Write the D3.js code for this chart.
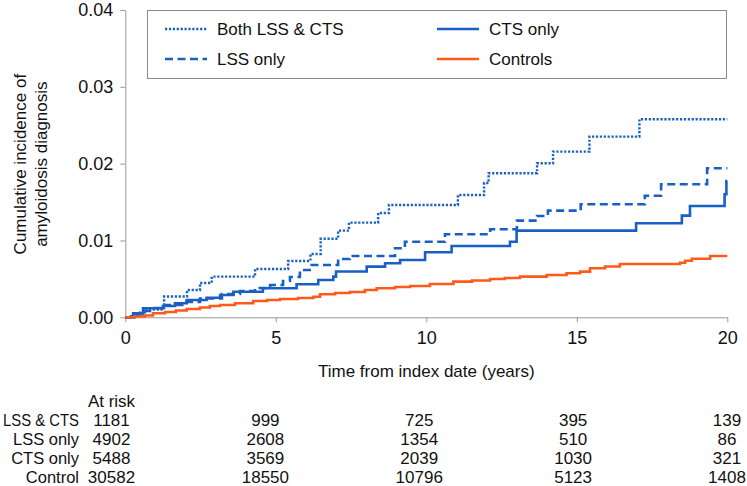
<!DOCTYPE html>
<html>
<head>
<meta charset="utf-8">
<script src="https://cdn.jsdelivr.net/npm/d3@7"></script>
<style>
  body { margin: 0; background: #fff; }
  svg { font-family: Arial, "Liberation Sans", sans-serif; }
</style>
</head>
<body>
<div id="chart-area"></div>
<script>
/*
*    cumulative incidence chart
*/
// step points (years, cumulative incidence)
var bothT = [0, 0.3, 0.65, 1.29, 2.05, 2.48, 2.87, 4.31, 5.41, 6.15, 6.49, 7.07, 7.43, 8.4, 8.76, 11.05, 11.92, 12.07, 13.68, 14.21, 15.42, 17.08, 20];
var bothV = [0, 0.0004, 0.001, 0.0027, 0.00355, 0.00447, 0.00529, 0.00629, 0.00733, 0.00824, 0.01023, 0.01128, 0.01232, 0.01358, 0.01462, 0.01592, 0.01749, 0.01875, 0.02005, 0.02156, 0.02352, 0.02578, 0.02578];

var lssT = [0, 0.19, 0.49, 0.82, 1.32, 1.98, 2.48, 3.21, 3.81, 4.31, 4.81, 5.24, 5.47, 5.8, 6.19, 7.07, 7.46, 8.96, 9.29, 10.62, 12.12, 13.01, 13.68, 14.04, 15.13, 17.26, 17.8, 19.33, 20];
var lssV = [0, 0.0003, 0.00082, 0.00121, 0.0016, 0.00199, 0.00245, 0.00303, 0.00342, 0.00382, 0.00421, 0.00473, 0.00525, 0.00616, 0.00681, 0.00759, 0.00798, 0.00898, 0.00984, 0.01081, 0.01146, 0.01258, 0.01319, 0.01388, 0.01471, 0.01583, 0.01732, 0.0194, 0.0194];

var ctsT = [0, 0.26, 0.59, 1.25, 1.65, 2.04, 2.7, 3.15, 3.59, 4.57, 5.69, 6.41, 6.91, 7.0, 8.02, 8.63, 9.13, 9.96, 10.84, 12.78, 13.0, 16.97, 18.49, 18.76, 19.91, 19.97, 20];
var ctsV = [0, 0.00052, 0.00117, 0.00147, 0.00182, 0.00225, 0.00255, 0.0029, 0.00333, 0.00378, 0.0043, 0.00486, 0.00529, 0.00596, 0.00659, 0.00703, 0.00746, 0.00846, 0.00928, 0.00984, 0.01128, 0.01224, 0.01323, 0.01449, 0.01602, 0.01775, 0.01775];

var ctrlT = [0, 0.32, 0.65, 0.92, 1.32, 1.68, 2.04, 2.48, 2.81, 3.15, 3.64, 4.25, 4.71, 5.14, 5.74, 6.25, 6.47, 6.97, 7.46, 7.96, 8.35, 8.96, 9.46, 10.12, 10.9, 11.52, 12.12, 12.61, 13.11, 14.0, 14.66, 15.11, 15.44, 15.94, 16.43, 18.43, 18.6, 18.82, 19.43, 20];
var ctrlV = [0, 0.0001, 0.00023, 0.00052, 0.00069, 0.00089, 0.00108, 0.00128, 0.00147, 0.0016, 0.00182, 0.00212, 0.00225, 0.00238, 0.00251, 0.00268, 0.003, 0.00316, 0.00329, 0.00355, 0.00378, 0.00395, 0.00408, 0.00434, 0.00464, 0.00479, 0.00499, 0.00512, 0.00529, 0.00551, 0.00573, 0.00594, 0.00638, 0.00661, 0.00694, 0.00711, 0.00737, 0.00763, 0.00798, 0.00798];

var xTicks = [0, 5, 10, 15, 20];
var yTicks = [0, 0.01, 0.02, 0.03, 0.04];

// numbers at risk
var riskTimes = [0, 5, 10, 15, 20];
var riskGroups = ["LSS & CTS", "LSS only", "CTS only", "Control"];
var riskBoth = [1181, 999, 725, 395, 139];
var riskLss = [4902, 2608, 1354, 510, 86];
var riskCts = [5488, 3569, 2039, 1030, 321];
var riskCtrl = [30582, 18550, 10796, 5123, 1408];

var blue = "#1a5fc4";
var orange = "#ff5a1a";

var series = [
  { name: "Both LSS & CTS", t: bothT, v: bothV, color: blue, dash: "2.2,1.7", w: 2.4 },
  { name: "LSS only", t: lssT, v: lssV, color: blue, dash: "8,4.5", w: 2.6 },
  { name: "CTS only", t: ctsT, v: ctsV, color: blue, dash: null, w: 2.6 },
  { name: "Controls", t: ctrlT, v: ctrlV, color: orange, dash: null, w: 2.6 }
];

var width = 747;
var height = 486;

var svg = d3.select("#chart-area")
  .append("svg")
  .attr("width", width)
  .attr("height", height);

var x = d3.scaleLinear()
  .domain([0, 20])
  .range([125.3, 727.3]);

var y = d3.scaleLinear()
  .domain([0, 0.04])
  .range([317.3, 10]);

var axisColor = "#9a9a9a";

// x axis
var xAxisG = svg.append("g")
  .attr("transform", "translate(0, " + y(0) + ")")
  .call(d3.axisBottom(x).tickValues(xTicks).tickSize(5).tickSizeOuter(0).tickPadding(9));
xAxisG.select(".domain").attr("stroke", axisColor);
xAxisG.selectAll(".tick line").attr("stroke", axisColor);
xAxisG.selectAll("text")
  .attr("font-size", "18px")
  .attr("fill", "#111")
  .attr("font-family", "Arial, 'Liberation Sans', sans-serif");

// y axis
var yAxisG = svg.append("g")
  .attr("transform", "translate(" + x(0) + ", 0)")
  .call(d3.axisLeft(y).tickValues(yTicks).tickFormat(d3.format(".2f")).tickSize(5).tickSizeOuter(0).tickPadding(7));
yAxisG.select(".domain").attr("stroke", axisColor);
yAxisG.selectAll(".tick line").attr("stroke", axisColor);
yAxisG.selectAll("text")
  .attr("font-size", "18px")
  .attr("fill", "#111")
  .attr("font-family", "Arial, 'Liberation Sans', sans-serif");

// curves
var line = d3.line()
  .x(d => x(d[0]))
  .y(d => y(d[1]))
  .curve(d3.curveStepAfter);

series.forEach(s => {
  var pts = s.t.map((t, i) => [t, s.v[i]]);
  svg.append("path")
    .datum(pts)
    .attr("d", line)
    .attr("fill", "none")
    .attr("stroke", s.color)
    .attr("stroke-width", s.w)
    .attr("stroke-dasharray", s.dash);
});

// legend
svg.append("rect")
  .attr("x", 147.5)
  .attr("y", 10.5)
  .attr("width", 579)
  .attr("height", 68)
  .attr("fill", "#fff")
  .attr("stroke", "#8a8a8a")
  .attr("stroke-width", 1);

var legendPos = [[165, 29], [165, 59], [437, 29], [437, 59]];
series.forEach((s, i) => {
  var p = legendPos[i];
  svg.append("line")
    .attr("x1", p[0]).attr("x2", p[0] + 42)
    .attr("y1", p[1]).attr("y2", p[1])
    .attr("stroke", s.color)
    .attr("stroke-width", s.w)
    .attr("stroke-dasharray", s.dash);
  svg.append("text")
    .attr("x", p[0] + 52)
    .attr("y", p[1] + 6)
    .attr("font-size", "17px")
    .attr("fill", "#111")
    .text(s.name);
});

// axis titles
var yTitle = svg.append("text")
  .attr("transform", "translate(0, " + (y(0.02) + 0.5) + ") rotate(-90)")
  .attr("text-anchor", "middle")
  .attr("font-size", "17px")
  .attr("fill", "#111");
yTitle.append("tspan").attr("x", 0).attr("y", 26).text("Cumulative incidence of");
yTitle.append("tspan").attr("x", 0).attr("y", 47).text("amyloidosis diagnosis");

svg.append("text")
  .attr("x", (x(0) + x(20)) / 2)
  .attr("y", 377)
  .attr("text-anchor", "middle")
  .attr("font-size", "17px")
  .attr("fill", "#111")
  .text("Time from index date (years)");

// at-risk table
var col = d3.scaleLinear()
  .domain([0, 20])
  .range([111.5, 727]);

var rowY = d3.scalePoint()
  .domain(riskGroups)
  .range([425.5, 483]);

svg.append("text")
  .attr("x", col(0))
  .attr("y", 406.5)
  .attr("text-anchor", "middle")
  .attr("font-size", "17px")
  .attr("fill", "#111")
  .text("At risk");

var riskRows = [riskBoth, riskLss, riskCts, riskCtrl];
riskGroups.forEach((grp, i) => {
  var lbl = svg.append("text")
    .attr("x", 79)
    .attr("y", rowY(grp))
    .attr("text-anchor", "end")
    .attr("font-size", "16.5px")
    .attr("fill", "#111")
    .text(grp);
  // the row labels are set narrow in the original, squeeze to fit the margin
  var len = lbl.node().getComputedTextLength();
  if (len > 76) {
    lbl.attr("textLength", 76).attr("lengthAdjust", "spacingAndGlyphs");
  }
  svg.selectAll(null)
    .data(riskRows[i])
    .enter().append("text")
    .attr("x", (d, j) => col(riskTimes[j]))
    .attr("y", rowY(grp))
    .attr("text-anchor", "middle")
    .attr("font-size", "17px")
    .attr("fill", "#111")
    .text(d => d);
});
</script>
</body>
</html>
